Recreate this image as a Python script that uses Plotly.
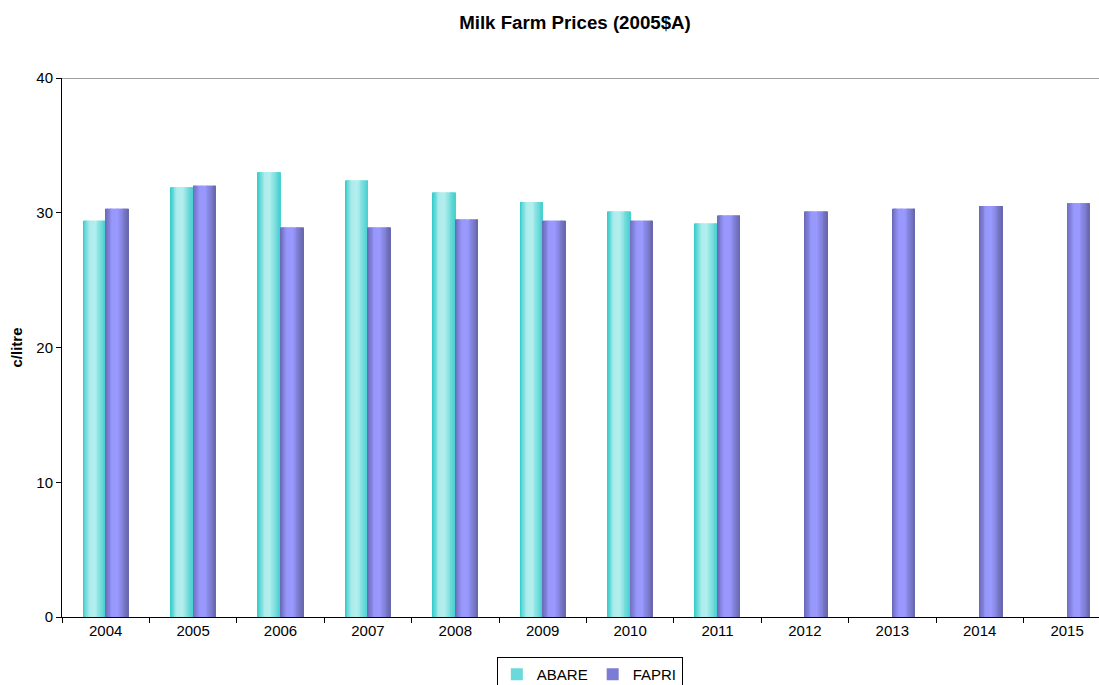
import plotly.graph_objects as go

# Milk farm prices, c/litre in 2005 Australian dollars
years = ["2004", "2005", "2006", "2007", "2008", "2009",
         "2010", "2011", "2012", "2013", "2014", "2015"]
abare = [29.4, 31.9, 33.0, 32.4, 31.5, 30.8, 30.1, 29.2, None, None, None, None]
fapri = [30.3, 32.0, 28.9, 28.9, 29.5, 29.4, 29.4, 29.8, 30.1, 30.3, 30.5, 30.7]
y_ticks = [0, 10, 20, 30, 40]

FONT = "Liberation Sans, Arial, sans-serif"
BAR_W = 0.2575          # width of one bar in category units
N_SLICES = 26           # vertical strips used to shade each bar


def hex_to_rgb(h):
    h = h.lstrip("#")
    return tuple(int(h[i:i + 2], 16) for i in (0, 2, 4))


def mix(a, b, t):
    return tuple(round(a[i] + (b[i] - a[i]) * t) for i in range(3))


def shade_weight(t):
    # how far a strip at relative position t leans towards the highlight colour
    pts = [(0.0, 0.0), (0.3, 0.95), (0.55, 1.0), (1.0, 0.05)]
    for (x0, w0), (x1, w1) in zip(pts, pts[1:]):
        if x0 <= t <= x1:
            return w0 + (w1 - w0) * (t - x0) / (x1 - x0)
    return 0.0


def add_shaded_series(fig, name, values, offset, dark_l, light, dark_r, legend_t):
    dl, li, dr = hex_to_rgb(dark_l), hex_to_rgb(light), hex_to_rgb(dark_r)
    step = BAR_W / N_SLICES
    legend_idx = int(legend_t * N_SLICES)
    for i in range(N_SLICES):
        t = (i + 0.5) / N_SLICES
        edge = mix(dl, dr, t)
        r, g, b = mix(edge, li, shade_weight(t))
        # strips overlap slightly so no seams show between them
        width = step * 1.7 if i < N_SLICES - 1 else step
        fig.add_trace(go.Bar(
            x=years, y=values, name=name,
            offset=offset + i * step, width=width,
            marker=dict(color=f"rgb({r},{g},{b})", line=dict(width=0)),
            showlegend=(i == legend_idx), legendgroup=name,
            hoverinfo="skip" if i != legend_idx else None,
        ))


fig = go.Figure()
add_shaded_series(fig, "ABARE", abare, -BAR_W, "#30CACA", "#B4EEEE", "#40CDCD", 0.12)
add_shaded_series(fig, "FAPRI", fapri, 0.0, "#6868B8", "#9999FF", "#6464A8", 0.12)

fig.update_layout(
    width=1099, height=685,
    margin=dict(l=62, r=0, t=78, b=68, autoexpand=False),
    paper_bgcolor="white", plot_bgcolor="white",
    barmode="overlay",
    font=dict(family=FONT, size=15, color="black"),
    title=dict(
        text="<b>Milk Farm Prices (2005$A)</b>",
        font=dict(family=FONT, size=18.7, color="black"),
        x=0.5232, xanchor="center", xref="container",
        y=1 - 22 / 685, yanchor="middle", yref="container",
    ),
    xaxis=dict(
        type="category", range=[-0.5, 11.365],
        showline=True, linecolor="black", linewidth=1,
        ticks="outside", ticklen=5, tickcolor="black", tickson="boundaries",
        showgrid=False, tickfont=dict(size=15),
    ),
    yaxis=dict(
        range=[0, 40], tickvals=y_ticks,
        showline=True, linecolor="black", linewidth=1,
        ticks="outside", ticklen=5, tickcolor="black",
        showgrid=False, zeroline=False, tickfont=dict(size=15),
        title=dict(text="<b>c/litre</b>", font=dict(size=15), standoff=10),
    ),
    legend=dict(
        orientation="h", x=0.509, xanchor="center",
        y=-(657 - 617) / 539, yanchor="top",
        bordercolor="black", borderwidth=1, bgcolor="white",
        font=dict(size=15), itemwidth=30, tracegroupgap=0,
    ),
    shapes=[dict(type="line", xref="paper", yref="y", x0=0, x1=1, y0=40, y1=40,
                 line=dict(color="#808080", width=1.5), layer="below")],
)

fig.write_html("out.html")
